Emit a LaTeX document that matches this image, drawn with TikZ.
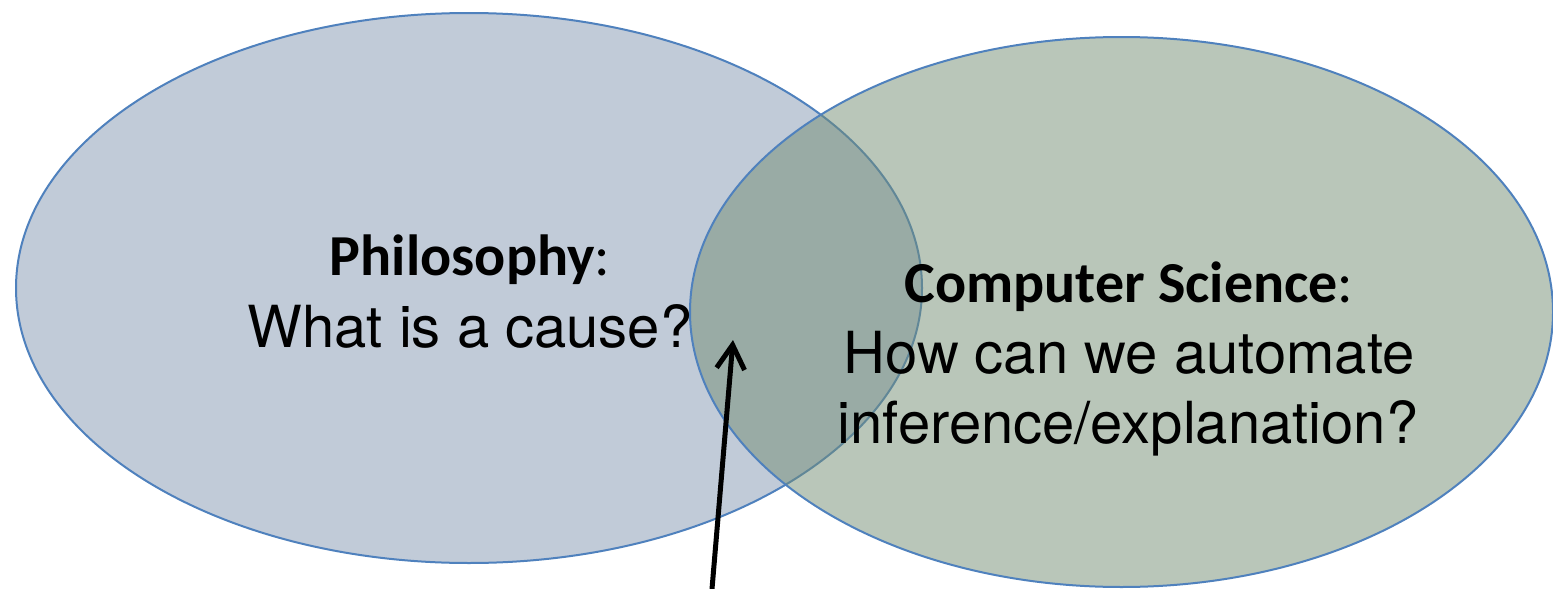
\documentclass[tikz,border=0pt]{standalone}
\usepackage{fontspec}
\setmainfont{TeX Gyre Heros}
\newfontfamily\calibri{Carlito}
\usetikzlibrary{shapes.geometric,arrows.meta}

\definecolor{philfill}{RGB}{193,203,216}
\definecolor{csfill}{RGB}{115,141,115}
\definecolor{rimblue}{RGB}{79,129,189}

\begin{document}
\begin{tikzpicture}[field/.style={ellipse,draw=rimblue,line width=1pt,inner sep=0pt},
  areatext/.style={anchor=base,inner sep=0pt,font=\fontsize{29}{35}\selectfont},
  pointer/.style={-{Straight Barb[length=12pt,width=14pt]},line width=2.5pt,line cap=round}]
  \useasboundingbox (0pt, 0pt) rectangle (776.5pt, -294.5pt);
  \draw (234.5pt, -144.0pt)node[field, fill=philfill, minimum width=453pt, minimum height=275pt](phil){};
  \draw (560.75pt, -156.0pt)node[field, fill=csfill, fill opacity=0.5, minimum width=431.5pt, minimum height=275pt](cs){};
  \draw (235.0pt, -137.5pt)node[areatext](philhead){{\calibri\bfseries Philosophy}{\calibri :}};
  \draw (235.0pt, -173.5pt)node[areatext](philq){What is a cause?};
  \draw (564.5pt, -151.0pt)node[areatext](cshead){{\calibri\bfseries Computer Science}{\calibri :}};
  \draw (564.5pt, -186.5pt)node[areatext](csq1){How can we automate};
  \draw (564.0pt, -221.5pt)node[areatext](csq2){inference/explanation?};
  \coordinate (tail) at (356.0pt, -294.5pt);
  \coordinate (tip) at (366.5pt, -170.0pt);
  \path[pointer] (tail) edge (tip);
\end{tikzpicture}
\end{document}
